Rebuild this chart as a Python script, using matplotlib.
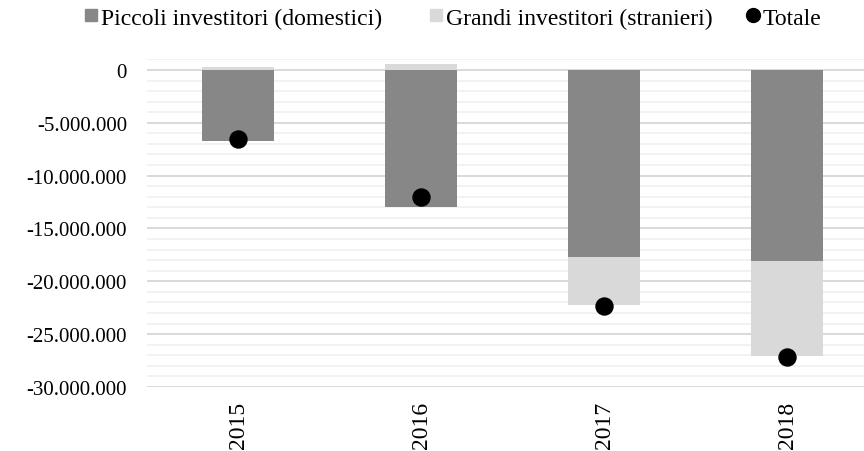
import matplotlib.pyplot as plt
from matplotlib.lines import Line2D
from matplotlib.ticker import FuncFormatter, MultipleLocator

# data
anni = ['2015', '2016', '2017', '2018']
piccoli = [-6680000, -13000000, -17720000, -18040000]
grandi = [250000, 570000, -4510000, -9050000]
totale = [-6500000, -12050000, -22300000, -27200000]

col_piccoli = '#878787'
col_grandi = '#d9d9d9'
serif = 'Liberation Serif'

fig = plt.figure(figsize=(8.64, 4.52), dpi=100)
ax = fig.add_axes([0.1696, 0.1416, 0.8304, 0.7248])

x = list(range(len(anni)))
w = 0.39
ax.bar(x, piccoli, width=w, color=col_piccoli, zorder=3)
# grandi stacks on top of 0 when positive, under piccoli when negative
basi = [0 if g > 0 else p for p, g in zip(piccoli, grandi)]
ax.bar(x, grandi, width=w, bottom=basi, color=col_grandi, zorder=3)
ax.scatter(x, totale, s=150, color='black', zorder=4)

ax.set_xlim(-0.5, 3.42)
ax.set_ylim(-30000000, 1000000)
ax.yaxis.set_major_locator(MultipleLocator(5000000))
ax.yaxis.set_minor_locator(MultipleLocator(1000000))
ax.grid(which='major', axis='y', color='#d9d9d9', lw=1.4, zorder=0)
ax.grid(which='minor', axis='y', color='#f0f0f0', lw=1.2, zorder=0)
ax.set_axisbelow(True)

def fmt(v, pos):
    s = f'{abs(int(round(v))):,}'.replace(',', '.')
    return ('-' if v < 0 else '') + s

ax.yaxis.set_major_formatter(FuncFormatter(fmt))
ax.set_xticks(x)
ax.set_xticklabels(anni, rotation=90, fontsize=17, family=serif)
for lab in ax.get_yticklabels():
    lab.set_family(serif)
    lab.set_fontsize(15)
ax.tick_params(axis='both', which='both', length=0)
ax.tick_params(axis='y', pad=14)
ax.tick_params(axis='x', pad=10)
for s in ax.spines.values():
    s.set_visible(False)

# legend split in two so the gap before "Totale" matches the original
h_bar = [
    Line2D([], [], marker='s', ls='none', color=col_piccoli, markersize=8),
    Line2D([], [], marker='s', ls='none', color=col_grandi, markersize=8),
]
leg1 = fig.legend(h_bar, ['Piccoli investitori (domestici)', 'Grandi investitori (stranieri)'],
                  loc='center', bbox_to_anchor=(0.461, 0.958), ncol=2, frameon=False,
                  handlelength=0.6, handletextpad=0.1, columnspacing=2.0,
                  prop={'family': serif, 'size': 17})
h_tot = [Line2D([], [], marker='o', ls='none', color='black', markersize=10)]
fig.legend(h_tot, ['Totale'], loc='center', bbox_to_anchor=(0.907, 0.958), frameon=False,
           handlelength=0.6, handletextpad=0.1, prop={'family': serif, 'size': 17})

fig.savefig('out.png', dpi=100)
